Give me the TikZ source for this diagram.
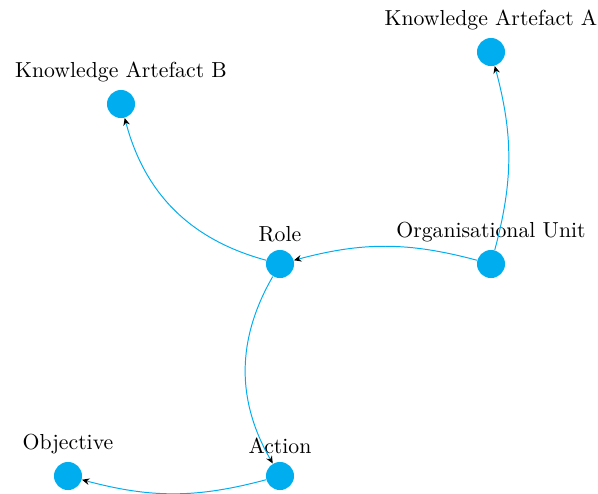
\documentclass[tikz,border=0pt]{standalone}
\usetikzlibrary{arrows.meta}
\definecolor{nodecyan}{RGB}{0,174,239}
\begin{document}
\begin{tikzpicture}[x=0.46pt,y=-0.46pt,
  dot/.style={circle,fill=nodecyan,draw=none,minimum size=12.9pt,inner sep=0pt},
  link/.style={draw=nodecyan,line width=0.45pt,-{Stealth[black,length=3.4pt,width=3pt]}}]
\useasboundingbox (0,0) rectangle (598,493);
\node[dot,label={above:Knowledge Artefact A}] (kaa) at (491,52) {};
\node[dot,label={above:Knowledge Artefact B}] (kab) at (121,104) {};
\node[dot,label={above:Role}] (role) at (280,264) {};
\node[dot,label={above:Organisational Unit}] (org) at (491,264) {};
\node[dot,label={above:Objective}] (obj) at (68,476) {};
\node[dot,label={above:Action}] (act) at (280,476) {};
\draw[link] (org) to[bend right=15] (role);
\draw[link] (org) to[bend right=15] (kaa);
\draw[link] (role) to[bend left=30] (kab);
\draw[link] (role) to[bend right=30] (act);
\draw[link] (act) to[bend left=15] (obj);
\end{tikzpicture}
\end{document}
